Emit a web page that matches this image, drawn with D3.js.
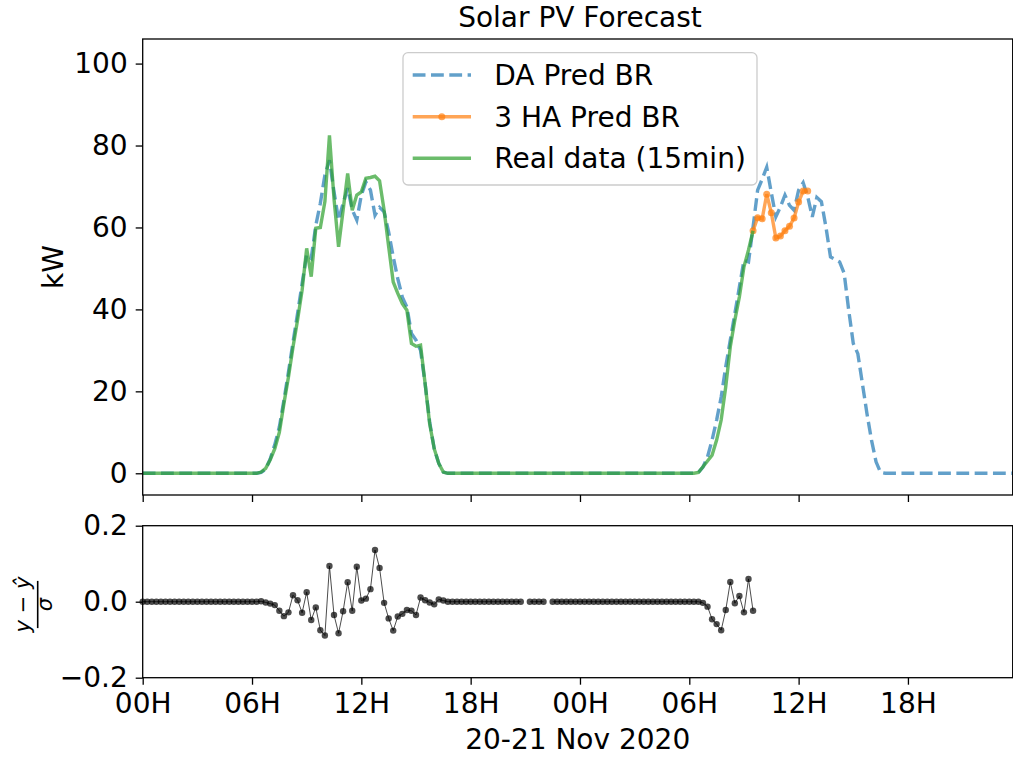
<!DOCTYPE html>
<html>
<head>
<meta charset="utf-8">
<title>Solar PV Forecast</title>
<script src="https://cdn.jsdelivr.net/npm/d3@7"></script>
<style>
  body { margin: 0; background: #fff; }
  svg text { font-family: "DejaVu Sans", sans-serif; fill: #000; }
</style>
</head>
<body>
<div id="chart"></div>
<script>
// 15 min steps, 20 Nov 2020 00:00 -> 21 Nov 2020 23:45 (rows of 8 = 2 hours)
var daPred = [
  0, 0, 0, 0, 0, 0, 0, 0,
  0, 0, 0, 0, 0, 0, 0, 0,
  0, 0, 0, 0, 0, 0, 0, 0,
  0, 0, 0.2, 1.0, 3.5, 7.0, 11.3, 17.8,
  24.7, 32.0, 39.0, 46.3, 53.4, 52.5, 60.5, 65.9,
  72.8, 76.4, 68.7, 61.8, 65.9, 69.6, 64.3, 61.8,
  67.9, 71.1, 69.1, 63.0, 64.9, 63.8, 58.9, 52.8,
  47.5, 43.0, 40.6, 34.1, 32.5, 30.0, 21.9, 12.5,
  6.0, 2.4, 0.3, 0, 0, 0, 0, 0,
  0, 0, 0, 0, 0, 0, 0, 0,
  0, 0, 0, 0, 0, 0, 0, 0,
  0, 0, 0, 0, 0, 0, 0, 0,
  0, 0, 0, 0, 0, 0, 0, 0,
  0, 0, 0, 0, 0, 0, 0, 0,
  0, 0, 0, 0, 0, 0, 0, 0,
  0, 0, 0.2, 1.5, 4.0, 8.1, 13.0, 18.6,
  26.0, 32.5, 39.0, 45.5, 52.0, 51.6, 60.1, 69.1,
  71.8, 74.7, 68.5, 62.6, 65.0, 67.9, 65.4, 64.2,
  69.1, 70.9, 67.5, 62.6, 67.3, 66.3, 60.1, 52.8,
  52.2, 51.6, 48.8, 39.8, 31.7, 29.2, 21.9, 14.6,
  8.1, 2.8, 0.2, 0, 0, 0, 0, 0,
  0, 0, 0, 0, 0, 0, 0, 0,
  0, 0, 0, 0, 0, 0, 0, 0,
  0, 0, 0, 0, 0, 0, 0, 0
];

var realData = [
  0, 0, 0, 0, 0, 0, 0, 0,
  0, 0, 0, 0, 0, 0, 0, 0,
  0, 0, 0, 0, 0, 0, 0, 0,
  0, 0, 0.3, 1.2, 3.3, 6.0, 10.0, 17.0,
  23.5, 30.8, 37.4, 44.7, 54.9, 48.0, 59.8, 60.0,
  66.3, 82.5, 67.0, 55.3, 64.2, 73.2, 64.2, 67.9,
  68.7, 72.0, 72.2, 72.5, 71.4, 64.2, 55.3, 46.7,
  43.9, 41.4, 39.8, 31.7, 31.0, 31.3, 21.9, 12.1,
  6.0, 2.4, 0.3, 0, 0, 0, 0, 0,
  0, 0, 0, 0, 0, 0, 0, 0,
  0, 0, 0, 0, 0, 0, 0, 0,
  0, 0, 0, 0, 0, 0, 0, 0,
  0, 0, 0, 0, 0, 0, 0, 0,
  0, 0, 0, 0, 0, 0, 0, 0,
  0, 0, 0, 0, 0, 0, 0, 0,
  0, 0, 0.2, 1.6, 3.0, 4.4, 8.1, 13.0,
  21.1, 30.9, 37.4, 43.1, 50.4, 54.5, 59.2
];

// 3 hours ahead prediction, starts 21 Nov 09:30
var haStart = 134;
var haPred = [59.2, 62.4, 62.1, 68.1, 63.6, 57.4, 57.9, 59.2, 60.3, 62.3, 66.2, 68.9, 68.9];

// normalised error (y - yhat) / sigma
var resid = [
  0, 0, 0, 0, 0, 0, 0, 0,
  0, 0, 0, 0, 0, 0, 0, 0,
  0, 0, 0, 0, 0, 0, 0, 0,
  0, 0, 0.001, -0.002, -0.005, -0.009, -0.024, -0.038,
  -0.028, 0.017, 0.004, -0.029, 0.025, -0.048, -0.015, -0.075,
  -0.089, 0.094, -0.035, -0.083, -0.025, 0.051, -0.024, 0.092,
  0.003, 0.008, 0.033, 0.136, 0.089, -0.003, -0.044, -0.076,
  -0.039, -0.032, -0.022, -0.024, -0.035, 0.011, 0.004, -0.002,
  -0.007, 0.006, 0.003, 0, 0, 0, 0, 0,
  0, 0, 0, 0, 0, 0, 0, 0,
  0, 0, 0, 0, null, 0, 0, 0,
  0, null, 0, 0, 0, 0, 0, 0,
  0, 0, 0, 0, 0, 0, 0, 0,
  0, 0, 0, 0, 0, 0, 0, 0,
  0, 0, 0, 0, 0, 0, 0, 0,
  0, 0, 0, -0.003, -0.013, -0.046, -0.059, -0.075,
  -0.022, 0.052, -0.004, 0.015, -0.028, 0.060, -0.024
];

var yTicksTop = [0, 20, 40, 60, 80, 100];
var yTicksBot = [-0.2, 0.0, 0.2];
var legendLabels = ["DA Pred BR", "3 HA Pred BR", "Real data (15min)"];

var t0 = Date.UTC(2020, 10, 20, 0, 0);
function tAt(i) { return new Date(t0 + i * 15 * 60 * 1000); }

var width = 1013, height = 757, fs = 28;
var left = 142.7, right = 1012.7;

var svg = d3.select("#chart").append("svg")
  .attr("width", width).attr("height", height);

var x = d3.scaleUtc().domain([tAt(0), tAt(191)]).range([left, right]);
var yTop = d3.scaleLinear().domain([-5.3, 106]).range([495, 39]);
var yBot = d3.scaleLinear().domain([-0.2, 0.2]).range([677.7, 525.7]);

var blue = "#1f77b4", orange = "#ff7f0e", green = "#2ca02c";

// clip for top panel
svg.append("clipPath").attr("id", "clipTop").append("rect")
  .attr("x", left).attr("y", 39).attr("width", right - left).attr("height", 456);

var topG = svg.append("g").attr("clip-path", "url(#clipTop)");

function lineTop(offset) {
  return d3.line()
    .defined(function(d) { return d != null; })
    .x(function(d, i) { return x(tAt(i + offset)); })
    .y(function(d) { return yTop(d); });
}

topG.append("path").datum(daPred)
  .attr("d", lineTop(0))
  .attr("fill", "none").attr("stroke", blue).attr("stroke-opacity", 0.7)
  .attr("stroke-width", 3.4).attr("stroke-dasharray", "12.8,5.5");

topG.append("path").datum(haPred)
  .attr("d", lineTop(haStart))
  .attr("fill", "none").attr("stroke", orange).attr("stroke-opacity", 0.7)
  .attr("stroke-width", 3.4);
topG.selectAll(".ha").data(haPred).enter().append("circle")
  .attr("cx", function(d, i) { return x(tAt(i + haStart)); })
  .attr("cy", function(d) { return yTop(d); })
  .attr("r", 3.5).attr("fill", orange).attr("fill-opacity", 0.7);

topG.append("path").datum(realData)
  .attr("d", lineTop(0))
  .attr("fill", "none").attr("stroke", green).attr("stroke-opacity", 0.7)
  .attr("stroke-width", 3.4);

// residual panel
var botG = svg.append("g");
botG.append("path").datum(resid)
  .attr("d", d3.line()
    .defined(function(d) { return d != null; })
    .x(function(d, i) { return x(tAt(i)); })
    .y(function(d) { return yBot(d); }))
  .attr("fill", "none").attr("stroke", "#000").attr("stroke-opacity", 0.7)
  .attr("stroke-width", 1);
botG.selectAll(".res").data(resid.map(function(d, i) { return {v: d, i: i}; })
    .filter(function(d) { return d.v != null; }))
  .enter().append("circle")
  .attr("cx", function(d) { return x(tAt(d.i)); })
  .attr("cy", function(d) { return yBot(d.v); })
  .attr("r", 3.2).attr("fill", "#000").attr("fill-opacity", 0.7);

// axes
function styleAxis(g) {
  g.select(".domain").remove();
  g.selectAll(".tick line").attr("stroke", "#000").attr("stroke-width", 1.3);
  g.selectAll(".tick text").attr("font-size", fs).attr("font-family", "DejaVu Sans").attr("fill", "#000");
}

svg.append("g").attr("transform", "translate(" + left + ",0)")
  .call(d3.axisLeft(yTop).tickValues(yTicksTop).tickSize(7).tickPadding(8))
  .call(styleAxis);
svg.append("g").attr("transform", "translate(0,495)")
  .call(d3.axisBottom(x).ticks(d3.utcHour.every(6)).tickFormat("").tickSize(7))
  .call(styleAxis);
svg.append("g").attr("transform", "translate(" + left + ",0)")
  .call(d3.axisLeft(yBot).tickValues(yTicksBot).tickFormat(d3.format(".1f")).tickSize(7).tickPadding(8))
  .call(styleAxis);
svg.append("g").attr("transform", "translate(0,677.7)")
  .call(d3.axisBottom(x).ticks(d3.utcHour.every(6)).tickFormat(d3.utcFormat("%HH")).tickSize(7).tickPadding(8.4))
  .call(styleAxis);

// spines
svg.append("rect").attr("x", left).attr("y", 39).attr("width", right - left).attr("height", 456)
  .attr("fill", "none").attr("stroke", "#000").attr("stroke-width", 1.3);
svg.append("rect").attr("x", left).attr("y", 525.7).attr("width", right - left).attr("height", 152)
  .attr("fill", "none").attr("stroke", "#000").attr("stroke-width", 1.3);

// labels
svg.append("text").attr("x", 580).attr("y", 27)
  .attr("text-anchor", "middle").attr("font-size", fs).text("Solar PV Forecast");
svg.append("text").attr("x", (left + right) / 2).attr("y", 749)
  .attr("text-anchor", "middle").attr("font-size", fs).text("20-21 Nov 2020");
svg.append("text").attr("transform", "translate(62.5,267) rotate(-90)")
  .attr("text-anchor", "middle").attr("font-size", fs).text("kW");

var frac = svg.append("g").attr("transform", "translate(37.7,604.5) rotate(-90)");
var num = frac.append("text").attr("x", 0).attr("y", -8).attr("text-anchor", "middle").attr("font-size", 21);
num.append("tspan").attr("font-style", "italic").text("y");
num.append("tspan").text(" \u2212 ");
num.append("tspan").attr("font-style", "italic").text("\u0177");
frac.append("line").attr("x1", -23.6).attr("x2", 23.6).attr("y1", 0).attr("y2", 0)
  .attr("stroke", "#000").attr("stroke-width", 1.6);
frac.append("text").attr("x", 0).attr("y", 14.3).attr("text-anchor", "middle")
  .attr("font-size", 21).attr("font-style", "italic").text("\u03c3");

// legend
var lg = svg.append("g");
lg.append("rect").attr("x", 403).attr("y", 52.7).attr("width", 354).attr("height", 132.3)
  .attr("rx", 5).attr("fill", "#fff").attr("fill-opacity", 0.8)
  .attr("stroke", "#cccccc").attr("stroke-width", 1.3);
var rowY = [75, 116.7, 158.3];
var styles = [
  {c: blue, dash: "12.8,5.5", marker: false},
  {c: orange, dash: null, marker: true},
  {c: green, dash: null, marker: false}
];
legendLabels.forEach(function(lbl, i) {
  var s = styles[i];
  lg.append("line").attr("x1", 412.7).attr("x2", 471).attr("y1", rowY[i]).attr("y2", rowY[i])
    .attr("stroke", s.c).attr("stroke-opacity", 0.7).attr("stroke-width", 3.4)
    .attr("stroke-dasharray", s.dash);
  if (s.marker) {
    lg.append("circle").attr("cx", 441.8).attr("cy", rowY[i]).attr("r", 3.5)
      .attr("fill", s.c).attr("fill-opacity", 0.7);
  }
  lg.append("text").attr("x", 494.3).attr("y", rowY[i] + 10).attr("font-size", fs).text(lbl);
});
</script>
</body>
</html>
